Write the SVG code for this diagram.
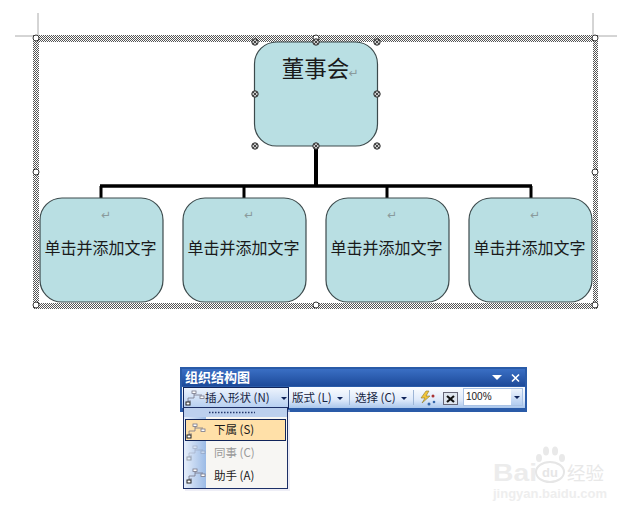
<svg xmlns="http://www.w3.org/2000/svg" xmlns:xlink="http://www.w3.org/1999/xlink" width="643" height="514" viewBox="0 0 643 514">
<style>
text{font-family:"Noto Sans CJK SC","Liberation Sans",sans-serif;fill:#1a1a1a}
.box{fill:#b9dfe3;stroke:#3c4a4c;stroke-width:1.2}
.kid{font-size:16px;text-anchor:middle}
.ret{font-family:"DejaVu Sans",sans-serif;font-size:12px;fill:#8a9a9c;text-anchor:middle}
.hc{fill:#fff;stroke:#333;stroke-width:1}
.crop{stroke:#aaa;stroke-width:1;fill:none}
.conn{stroke:#000;fill:none}
.tb{font-size:11.5px;fill:#16233f}
.sep{stroke:#9db5d6;stroke-width:1}
.arr{fill:#10245a}
.wm{fill:#e9e9e9}
</style>
<defs>
<pattern id="dots" width="2" height="2" patternUnits="userSpaceOnUse">
<rect width="2" height="2" fill="#fff"/><rect width="1" height="1" fill="#555"/><rect x="1" y="1" width="1" height="1" fill="#555"/>
</pattern>
<g id="h"><circle r="3.2" fill="#ccc" stroke="#222" stroke-width="1"/><path d="M-2-2L2 2M-2 2L2-2" stroke="#222" stroke-width="0.8"/></g>
<g id="org"><path d="M-6 6V0H0V-5M0-3H8M-6 3H-3" fill="none" stroke="#778" stroke-width="0.8"/><rect x="-2" y="-7" width="4" height="2.5" fill="#fff" stroke="#778" stroke-width="0.8"/><rect x="6" y="-2" width="4" height="2.5" fill="#fff" stroke="#778" stroke-width="0.8"/><rect x="-8" y="4" width="4" height="3" fill="#fff" stroke="#222" stroke-width="1"/></g>
<linearGradient id="title" x1="0" y1="0" x2="0" y2="1"><stop offset="0" stop-color="#3a6fc4"/><stop offset="1" stop-color="#1d4a9a"/></linearGradient>
<linearGradient id="bar" x1="0" y1="0" x2="0" y2="1"><stop offset="0" stop-color="#fbfdff"/><stop offset="0.6" stop-color="#dfeafa"/><stop offset="1" stop-color="#a9c6ec"/></linearGradient>
<linearGradient id="strip" x1="0" y1="0" x2="1" y2="0"><stop offset="0" stop-color="#e6eefa"/><stop offset="1" stop-color="#9cbbe6"/></linearGradient>
<linearGradient id="btn" x1="0" y1="0" x2="0" y2="1"><stop offset="0" stop-color="#eef4fd"/><stop offset="1" stop-color="#b3cdf0"/></linearGradient>
</defs>
<rect width="643" height="514" fill="#fff"/>

<g id="crop-marks">
<path class="crop" d="M38 13V36M15 36H36M593 13V36M597 36H617"/>
</g>

<g id="frame">
<path d="M33 35H598V309H33ZM39 42V303H593V42Z" fill="url(#dots)" fill-rule="evenodd"/>
<circle class="hc" cx="36" cy="38" r="3"/><circle class="hc" cx="316" cy="38" r="3"/><circle class="hc" cx="595" cy="38" r="3"/>
<circle class="hc" cx="36" cy="172" r="3"/><circle class="hc" cx="595" cy="172" r="3"/>
<circle class="hc" cx="36" cy="305" r="3"/><circle class="hc" cx="316" cy="305" r="3"/><circle class="hc" cx="595" cy="305" r="3"/>
</g>

<g id="connectors">
<path class="conn" stroke-width="4" d="M316 146V187"/>
<path class="conn" stroke-width="3.4" d="M100 186H532"/>
<path class="conn" stroke-width="3" d="M101 186V198M244 186V198M387 186V198M531 186V198"/>
</g>

<g id="node-root">
<rect class="box" x="254.500" y="42" width="123" height="104" rx="22"/>
<text x="315.500" y="77" font-size="22.500" text-anchor="middle">董事会</text>
<text class="ret" x="353.500" y="77">↵</text>
<use xlink:href="#h" x="255" y="42"/><use xlink:href="#h" x="316" y="42"/><use xlink:href="#h" x="377" y="42"/>
<use xlink:href="#h" x="255" y="94"/><use xlink:href="#h" x="377" y="94"/>
<use xlink:href="#h" x="255" y="146"/><use xlink:href="#h" x="316" y="146"/><use xlink:href="#h" x="377" y="146"/>
</g>
<g id="node-1"><rect class="box" x="40" y="198" width="123" height="104" rx="22"/><text class="ret" x="106" y="219">↵</text><text class="kid" x="100.500" y="254">单击并添加文字</text></g>
<g id="node-2"><rect class="box" x="183" y="198" width="123" height="104" rx="22"/><text class="ret" x="249" y="219">↵</text><text class="kid" x="243.500" y="254">单击并添加文字</text></g>
<g id="node-3"><rect class="box" x="326" y="198" width="123" height="104" rx="22"/><text class="ret" x="392" y="219">↵</text><text class="kid" x="386.500" y="254">单击并添加文字</text></g>
<g id="node-4"><rect class="box" x="469" y="198" width="123" height="104" rx="22"/><text class="ret" x="535" y="219">↵</text><text class="kid" x="529.500" y="254">单击并添加文字</text></g>

<g id="toolbar">
<rect x="180" y="367" width="347" height="45" fill="#2a5ba8"/>
<rect x="182" y="369" width="343" height="17" fill="url(#title)"/>
<text x="185" y="381.500" font-size="13" font-weight="700" style="fill:#fff">组织结构图</text>
<path d="M492 375H502L497 380Z" fill="#fff"/>
<path d="M512 374.500L519 381.500M519 374.500L512 381.500" stroke="#fff" stroke-width="1.600"/>
<rect x="182" y="387" width="343" height="21" fill="url(#bar)"/>
<rect x="183.500" y="387.500" width="105" height="21" fill="url(#btn)" stroke="#10245a"/>
<use xlink:href="#org" x="194" y="398"/>
<text class="tb" x="205" y="402">插入形状 (N)</text>
<path class="arr" d="M281 397H287L284 400Z"/>
<text class="tb" x="292" y="402">版式 (L)</text>
<path class="arr" d="M337 397H343L340 400Z"/>
<path class="sep" d="M349.500 390V405"/>
<text class="tb" x="355" y="402">选择 (C)</text>
<path class="arr" d="M401 397H407L404 400Z"/>
<path class="sep" d="M413.500 390V405"/>
<g id="tool-icon-1"><path d="M426 391L421 398H425L422 403L430 396H426L429 391Z" fill="#f2c53a" stroke="#8a7a30" stroke-width="0.600"/><circle cx="433" cy="396" r="1.500" fill="#a33"/><circle cx="429" cy="404" r="1.500" fill="#36a"/><circle cx="434" cy="402" r="1.300" fill="#36a"/></g>
<g id="tool-icon-2"><rect x="443.500" y="392.500" width="14" height="12" fill="#dfe6ef" stroke="#667"/><path d="M447 396L454 402M454 396L447 402" stroke="#111" stroke-width="2.200"/></g>
<rect x="463.500" y="388.500" width="59" height="17" fill="#fff" stroke="#a9c2e4"/>
<text x="466" y="400" font-size="10" style="font-family:'Liberation Sans',sans-serif">100%</text>
<rect x="511" y="389" width="11" height="16" fill="url(#btn)"/>
<path class="arr" d="M514 396H520L517 399Z"/>
</g>

<g id="menu">
<rect x="185" y="410" width="105" height="81" fill="#dde" opacity="0.5"/>
<rect x="183.500" y="407.500" width="104" height="81" fill="#f7f6f3" stroke="#1c2f66"/>
<rect x="184" y="408" width="22" height="80" fill="url(#strip)"/>
<rect x="184" y="408" width="103" height="9" fill="#bcd0ee"/>
<path d="M209 412.500H255" stroke="#23386e" stroke-width="1.500" stroke-dasharray="1.500 1.500"/>
<rect x="185.500" y="419.500" width="100" height="21" fill="#ffe0a8" stroke="#10245a"/>
<use xlink:href="#org" x="195" y="431"/>
<text x="214" y="434" font-size="11.500">下属 (S)</text>
<use xlink:href="#org" x="195" y="453" opacity="0.35"/>
<text x="214" y="457" font-size="11.500" style="fill:#9a9a9a">同事 (C)</text>
<use xlink:href="#org" x="195" y="476"/>
<text x="214" y="480" font-size="11.500">助手 (A)</text>
</g>

<g id="watermark">
<text x="493" y="481" font-size="24" font-weight="700" style="font-family:'Liberation Sans',sans-serif;fill:#ececec" textLength="44" lengthAdjust="spacingAndGlyphs">Bai</text>
<ellipse cx="550" cy="472" rx="14" ry="10" fill="#fff" stroke="#e6e6e6" stroke-width="2"/>
<text x="550" y="477" font-size="13" font-weight="700" text-anchor="middle" style="font-family:'Liberation Sans',sans-serif;fill:#e6e6e6">du</text>
<ellipse class="wm" cx="539" cy="458" rx="3" ry="4"/><ellipse class="wm" cx="546" cy="451" rx="3" ry="4.500"/><ellipse class="wm" cx="555" cy="451" rx="3" ry="4.500"/><ellipse class="wm" cx="562" cy="458" rx="3" ry="4"/>
<text x="567" y="480" font-size="18.500" style="fill:#e8e8e8">经验</text>
<text x="493" y="498" font-size="13" font-weight="700" style="font-family:'Liberation Sans',sans-serif;fill:#eeeeee" textLength="114" lengthAdjust="spacingAndGlyphs">jingyan.baidu.com</text>
</g>
</svg>
